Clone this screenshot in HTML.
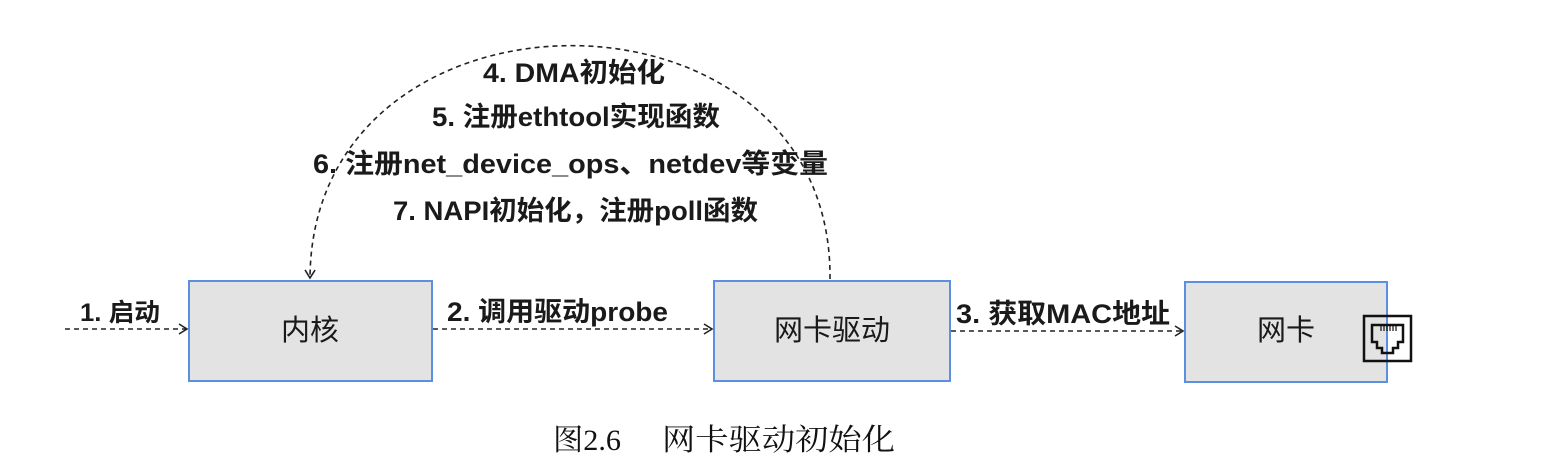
<!DOCTYPE html>
<html><head><meta charset="utf-8"><style>
html,body{margin:0;padding:0;background:#fff;}
body{width:1541px;height:464px;overflow:hidden;position:relative;}
svg{position:absolute;left:0;top:0;}
</style></head><body>
<svg width="1541" height="464" viewBox="0 0 1541 464" xmlns="http://www.w3.org/2000/svg">
<defs>
<marker id="ah" markerWidth="12" markerHeight="12" refX="10" refY="6" orient="auto" markerUnits="userSpaceOnUse">
<path d="M2,1 L10,6 L2,11" fill="none" stroke="#222" stroke-width="1.6"/>
</marker>
</defs>
<g fill="#e3e3e3" stroke="#5b8fe0" stroke-width="2">
<rect x="189" y="281" width="243" height="100"/>
<rect x="714" y="281" width="236" height="100"/>
<rect x="1185" y="282" width="202" height="100"/>
</g>
<g stroke="#222" stroke-width="1.6" stroke-dasharray="5,4" fill="none">
<line x1="65" y1="329" x2="187" y2="329" marker-end="url(#ah)"/>
<line x1="433" y1="329" x2="712" y2="329" marker-end="url(#ah)"/>
<line x1="951" y1="331" x2="1183" y2="331" marker-end="url(#ah)"/>
<path d="M830,279 C833,-32 312,-32 310,278" marker-end="url(#ah)"/>
</g>
<g fill="none" stroke="#111" stroke-width="2.5">
<rect x="1364" y="316" width="47" height="45"/>
<path d="M1372,325 H1403 V342 H1398 V348 H1393 V353 H1382 V348 H1377 V342 H1372 Z"/>
</g>
<g stroke="#111" stroke-width="1.2">
<line x1="1381" y1="325" x2="1381" y2="331"/><line x1="1384" y1="325" x2="1384" y2="331"/>
<line x1="1387" y1="325" x2="1387" y2="331"/><line x1="1390" y1="325" x2="1390" y2="331"/>
<line x1="1393" y1="325" x2="1393" y2="331"/><line x1="1396" y1="325" x2="1396" y2="331"/>
</g>
<g font-family="'Liberation Sans','Noto Sans CJK SC',sans-serif" fill="#1a1a1a" font-size="27" font-weight="bold">
<text x="80" y="321" font-size="25" textLength="80" lengthAdjust="spacingAndGlyphs">1. 启动</text>
<text x="447" y="321" textLength="221" lengthAdjust="spacingAndGlyphs">2. 调用驱动probe</text>
<text x="956" y="323" textLength="214" lengthAdjust="spacingAndGlyphs">3. 获取MAC地址</text>
<text x="310" y="340" text-anchor="middle" font-size="29" font-weight="normal">内核</text>
<text x="832" y="340" text-anchor="middle" font-size="29" font-weight="normal">网卡驱动</text>
<text x="1286" y="340" text-anchor="middle" font-size="29" font-weight="normal">网卡</text>
<text x="483" y="82" textLength="182" lengthAdjust="spacingAndGlyphs">4. DMA初始化</text>
<text x="432" y="126" textLength="288" lengthAdjust="spacingAndGlyphs">5. 注册ethtool实现函数</text>
<text x="313" y="173" textLength="515" lengthAdjust="spacingAndGlyphs">6. 注册net_device_ops、netdev等变量</text>
<text x="393" y="220" textLength="365" lengthAdjust="spacingAndGlyphs">7. NAPI初始化，注册poll函数</text>
</g>
<g font-family="'Liberation Serif','Noto Serif CJK SC',serif" font-size="30" fill="#111">
<text x="553" y="450" textLength="68" lengthAdjust="spacingAndGlyphs">图2.6</text>
<text x="662" y="450" textLength="233" lengthAdjust="spacingAndGlyphs">网卡驱动初始化</text>
</g>
</svg>
</body></html>
